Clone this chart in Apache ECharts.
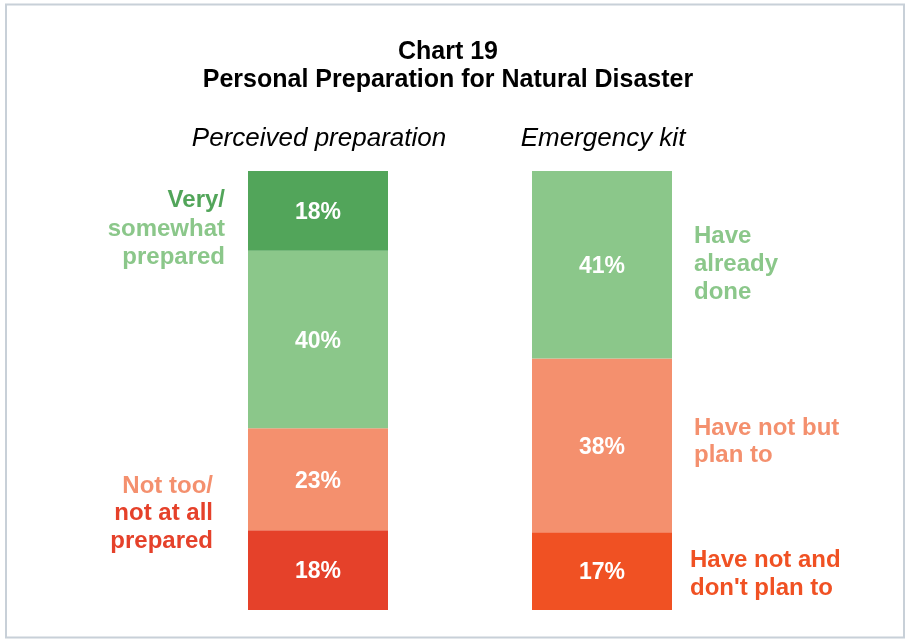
<!DOCTYPE html>
<html>
<head>
<meta charset="utf-8">
<script src="https://cdn.jsdelivr.net/npm/echarts@6/dist/echarts.min.js"></script>
<style>
  html, body { margin: 0; padding: 0; background: #fff; }
  #chart { width: 907px; height: 639px; }
</style>
</head>
<body>
<div id="chart"></div>
<script>
// ---- Chart text ----
const chartTitle = ['Chart 19', 'Personal Preparation for Natural Disaster'];
const panelTitles = ['Perceived preparation', 'Emergency kit'];

// ---- Perceived preparation (stacked bottom to top) ----
const prepCategories = ['Not at all prepared', 'Not too prepared', 'Somewhat prepared', 'Very prepared'];
const prepValues = [18, 23, 40, 18];

// ---- Emergency kit (stacked bottom to top) ----
const kitCategories = ["Have not and don't plan to", 'Have not but plan to', 'Have already done'];
const kitValues = [17, 38, 41];

const FONT = '"Liberation Sans", Arial, Helvetica, sans-serif';
const DARK_GREEN = '#52a55a';
const LIGHT_GREEN = '#8bc78a';
const SALMON = '#f4906e';
const RED = '#e5412a';
const ORANGE_RED = '#f05123';

const prepColors = [RED, SALMON, LIGHT_GREEN, DARK_GREEN];
const kitColors = [ORANGE_RED, SALMON, LIGHT_GREEN];

const sum = arr => arr.reduce((a, b) => a + b, 0);

function stackSeries(names, values, colors, axisIndex, stackId) {
  return values.map((v, i) => ({
    name: names[i],
    type: 'bar',
    stack: stackId,
    xAxisIndex: axisIndex,
    yAxisIndex: axisIndex,
    barWidth: '100%',
    data: [v],
    itemStyle: { color: colors[i] },
    label: {
      show: true,
      position: 'inside',
      offset: [0, 2],
      formatter: '{c}%',
      color: '#fff',
      fontFamily: FONT,
      fontWeight: 'bold',
      fontSize: 23
    },
    emphasis: { disabled: true }
  }));
}

function txt(text, x, y, color, size, opts) {
  opts = opts || {};
  return {
    type: 'text',
    x: x,
    y: y + 2,
    silent: true,
    style: {
      text: text,
      fill: color,
      fontFamily: FONT,
      fontSize: size,
      fontWeight: opts.weight || 'bold',
      fontStyle: opts.style || 'normal',
      align: opts.align || 'left',
      verticalAlign: 'middle'
    }
  };
}

const chart = echarts.init(document.getElementById('chart'), null, { renderer: 'canvas' });

const hiddenCat = (data, gi) => ({
  type: 'category', gridIndex: gi, data: data,
  show: false, axisLine: { show: false }, axisTick: { show: false }
});
const hiddenVal = (max, gi) => ({
  type: 'value', gridIndex: gi, min: 0, max: max,
  show: false, splitLine: { show: false }
});

chart.setOption({
  backgroundColor: '#ffffff',
  animation: false,
  grid: [
    { left: 248, top: 171, width: 140, height: 439 },
    { left: 532, top: 171, width: 140, height: 439 }
  ],
  xAxis: [hiddenCat([panelTitles[0]], 0), hiddenCat([panelTitles[1]], 1)],
  yAxis: [hiddenVal(sum(prepValues), 0), hiddenVal(sum(kitValues), 1)],
  series: [].concat(
    stackSeries(prepCategories, prepValues, prepColors, 0, 'prep'),
    stackSeries(kitCategories, kitValues, kitColors, 1, 'kit')
  ),
  graphic: [
    // frame
    {
      type: 'rect', silent: true,
      shape: { x: 6, y: 4.5, width: 898, height: 633 },
      style: { fill: 'none', stroke: '#c8d0d8', lineWidth: 2 }
    },
    // titles
    txt(chartTitle[0], 448, 50, '#000', 25, { align: 'center' }),
    txt(chartTitle[1], 448, 78, '#000', 25, { align: 'center' }),
    txt(panelTitles[0], 319, 137, '#000', 26, { align: 'center', weight: 'normal', style: 'italic' }),
    txt(panelTitles[1], 603, 137, '#000', 26, { align: 'center', weight: 'normal', style: 'italic' }),
    // perceived preparation side labels
    txt('Very/', 225, 198, DARK_GREEN, 24, { align: 'right' }),
    txt('somewhat', 225, 227, LIGHT_GREEN, 24, { align: 'right' }),
    txt('prepared', 225, 255, LIGHT_GREEN, 24, { align: 'right' }),
    txt('Not too/', 213, 484.5, SALMON, 24, { align: 'right' }),
    txt('not at all', 213, 511.5, RED, 24, { align: 'right' }),
    txt('prepared', 213, 539, RED, 24, { align: 'right' }),
    // emergency kit side labels
    txt('Have', 694, 234.5, LIGHT_GREEN, 24),
    txt('already', 694, 262.5, LIGHT_GREEN, 24),
    txt('done', 694, 290.5, LIGHT_GREEN, 24),
    txt('Have not but', 694, 426.5, SALMON, 24),
    txt('plan to', 694, 453, SALMON, 24),
    txt('Have not and', 690, 558.5, ORANGE_RED, 24),
    txt("don't plan to", 690, 586, ORANGE_RED, 24)
  ]
});
</script>
</body>
</html>
